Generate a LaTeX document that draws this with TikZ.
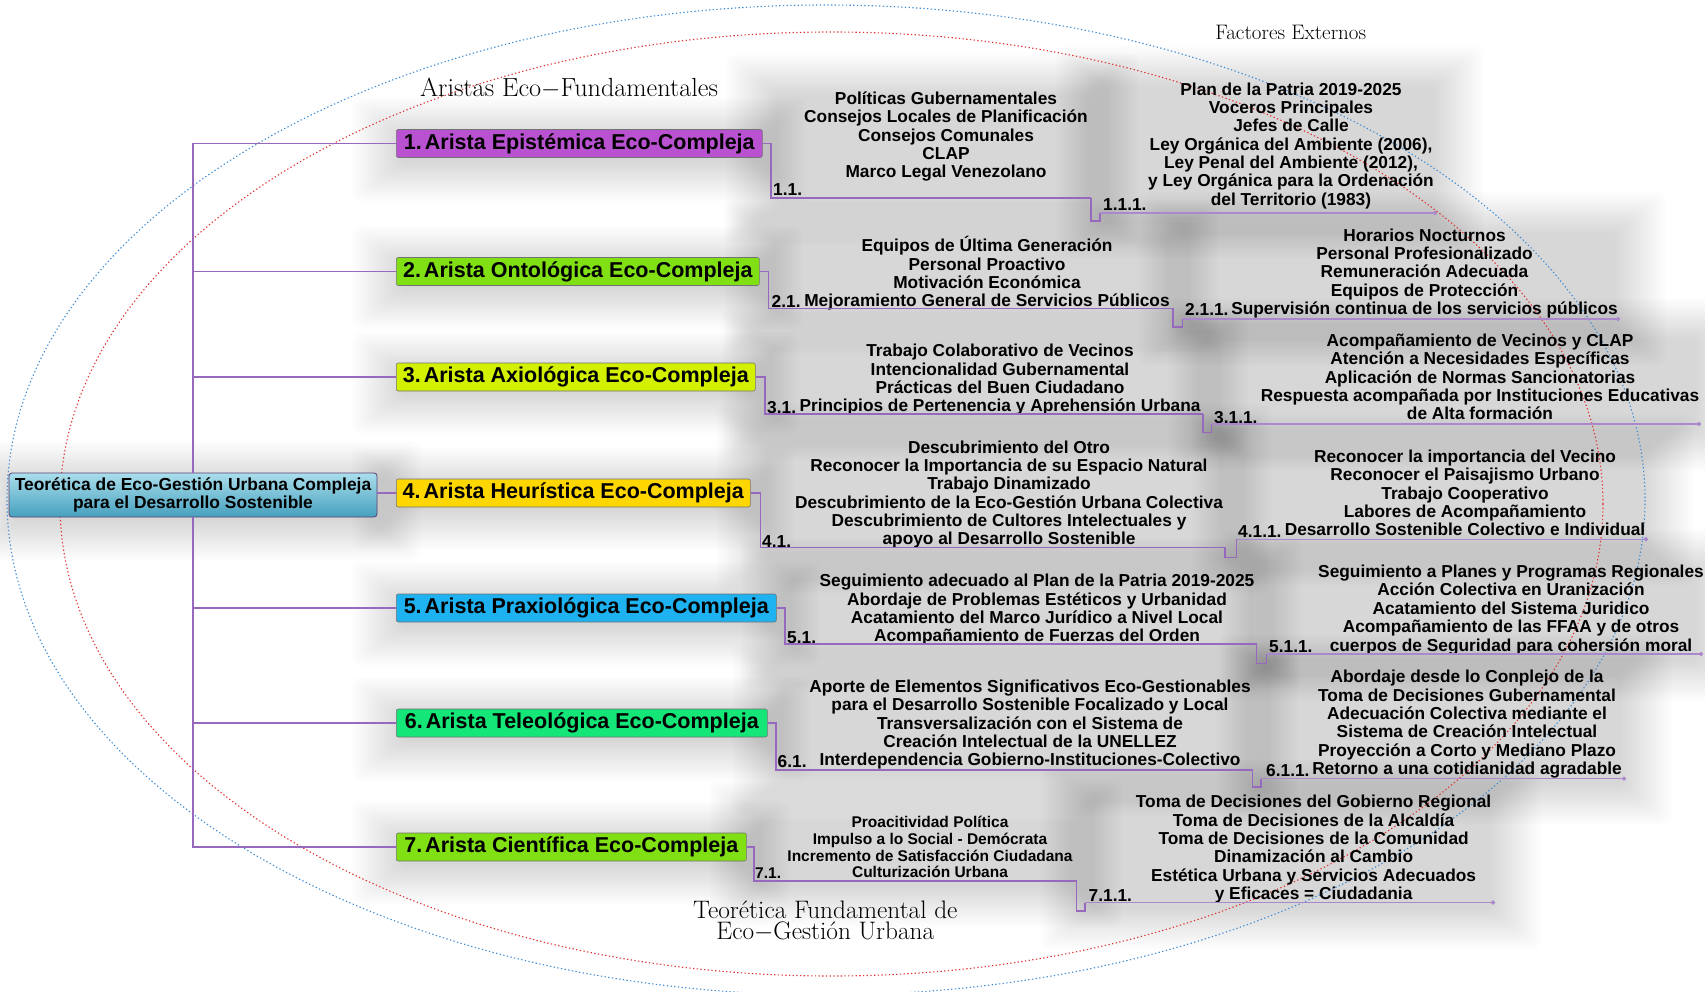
\documentclass[tikz,border=0pt]{standalone}
\usepackage{fontspec}
\newfontfamily\arial{Liberation Sans}
\usetikzlibrary{arrows.meta}
\definecolor{lnc}{RGB}{150,105,190}
\definecolor{c1}{RGB}{185,82,208}
\definecolor{c2}{RGB}{128,224,20}
\definecolor{c3}{RGB}{210,240,0}
\definecolor{c4}{RGB}{255,215,0}
\definecolor{c5}{RGB}{30,178,240}
\definecolor{c6}{RGB}{20,230,120}
\definecolor{c7}{RGB}{128,224,20}
\definecolor{ebl}{RGB}{60,140,215}
\definecolor{ere}{RGB}{225,50,50}
\definecolor{mtop}{RGB}{170,222,236}
\definecolor{mbot}{RGB}{70,160,190}
\newcommand{\sfsh}[4]{\foreach \k in {1,...,20}{\fill[black,opacity=0.0085,rounded corners=8pt] ({#1-\k*2.6+8},{#2-\k*2.1+10}) rectangle ({#3+\k*2.6-8},{#4+\k*2.1+2});}}
\tikzset{
 arista/.style={draw=black!55, line width=0.6pt, rounded corners=2pt, minimum height=28pt, inner sep=3pt, anchor=west, font=\arial\bfseries\fontsize{21.5}{24}\selectfont, text=black},
 conn/.style={draw=lnc, line width=1.1pt},
 uline/.style={draw=lnc!80!white, line width=1.6pt},
 blk/.style={align=center, inner sep=0pt, font=\arial\bfseries\fontsize{17.3}{18.35}\selectfont, execute at begin node=\strut, execute at end node=\strut},
 blks/.style={align=center, inner sep=0pt, font=\arial\bfseries\fontsize{15.5}{16.6}\selectfont, execute at begin node=\strut, execute at end node=\strut},
 lbl/.style={anchor=west, inner sep=0pt, font=\arial\bfseries\fontsize{17.3}{18.35}\selectfont},
 lbls/.style={anchor=west, inner sep=0pt, font=\arial\bfseries\fontsize{15.5}{16.6}\selectfont},
 ttl/.style={inner sep=0pt, align=center},
 endc/.style={-{Circle[open,length=4pt,width=4pt]}},
 dotl/.style={line width=1.1pt, dash pattern=on 1.3pt off 2.4pt},
}
\begin{document}
\begin{tikzpicture}[x=1pt,y=-1pt]
\fill[white] (0,0) rectangle (1705,992);
\useasboundingbox (0,0) rectangle (1705,992);
% soft shadows
\sfsh{9}{473}{377}{517}
\sfsh{396}{129}{762}{158}
\sfsh{770}{86}{1095}{200}
\sfsh{1100}{78}{1440}{215}
\sfsh{396}{258}{759}{285}
\sfsh{768}{232}{1175}{310}
\sfsh{1182}{224}{1622}{322}
\sfsh{396}{364}{755}{390}
\sfsh{765}{340}{1205}{416}
\sfsh{1212}{330}{1703}{427}
\sfsh{396}{479}{750}{506}
\sfsh{760}{436}{1227}{550}
\sfsh{1236}{446}{1650}{542}
\sfsh{396}{594}{776}{622}
\sfsh{785}{570}{1258}{646}
\sfsh{1266}{561}{1703}{657}
\sfsh{396}{709}{767}{737}
\sfsh{776}{675}{1254}{772}
\sfsh{1261}{666}{1628}{781}
\sfsh{396}{833}{746}{861}
\sfsh{753}{812}{1078}{883}
\sfsh{1085}{791}{1497}{905}
% ellipses
\draw[ebl, dotl] (826,500) ellipse [x radius=819, y radius=495];
\draw[ere, dotl] (831.5,504) ellipse [x radius=771.5, y radius=472];
% titles
\node[ttl, font=\fontsize{21}{24}\selectfont] (fe) at (1290.7,32.6) {Factores Externos};
\node[ttl, font=\fontsize{26.2}{28}\selectfont] (ae) at (569,88) {Aristas Eco$-$Fundamentales};
\node[ttl, font=\fontsize{25.3}{27}\selectfont] (tf1) at (825.3,910) {Teorética Fundamental de};
\node[ttl, font=\fontsize{25.3}{27}\selectfont] (tf2) at (825.3,932) {Eco$-$Gestión Urbana};
% main node
\node[draw=lnc!60!black, line width=0.8pt, rounded corners=3pt, top color=mtop, bottom color=mbot, minimum width=368pt, minimum height=44pt, align=center, inner sep=2pt, font=\arial\bfseries\fontsize{17.4}{17.6}\selectfont] (main) at (193,495) {Teorética de Eco-Gestión Urbana Compleja\\para el Desarrollo Sostenible};
% arista boxes
\node[arista, fill=c1, minimum width=366pt] (a1) at (396,143.5) {1.\kern3pt Arista Epistémica Eco-Compleja};
\node[arista, fill=c2, minimum width=363pt] (a2) at (396,271.5) {2.\kern3pt Arista Ontológica Eco-Compleja};
\node[arista, fill=c3, minimum width=359pt] (a3) at (396,377) {3.\kern3pt Arista Axiológica Eco-Compleja};
\node[arista, fill=c4, minimum width=354pt] (a4) at (396,493) {4.\kern3pt Arista Heurística Eco-Compleja};
\node[arista, fill=c5, minimum width=380pt] (a5) at (396,608) {5.\kern3pt Arista Praxiológica Eco-Compleja};
\node[arista, fill=c6, minimum width=371pt] (a6) at (396,723) {6.\kern3pt Arista Teleológica Eco-Compleja};
\node[arista, fill=c7, minimum width=350pt] (a7) at (396,847) {7.\kern3pt Arista Científica Eco-Compleja};
% trunk
\draw[conn] (main) |- (a1.west);
\draw[conn] (main) |- (a2.west);
\draw[conn] (main) |- (a3.west);
\draw[conn] (main.east |- a4.west) -- (a4.west);
\draw[conn] (main) |- (a5.west);
\draw[conn] (main) |- (a6.west);
\draw[conn] (main) |- (a7.west);
% ---------- Row 1
\node[blk] (t11) at (946,137.5) {Políticas Gubernamentales\\Consejos Locales de Planificación\\Consejos Comunales\\CLAP\\Marco Legal Venezolano};
\node[lbl] (l11) at (773,190) {1.1.};
\coordinate (u11s) at (771,198); \coordinate (u11e) at (1091,198);
\draw[conn] (a1.east) -| (u11s) -- (u11e);
\node[blk] (t111) at (1291,146.7) {Plan de la Patria 2019-2025\\Voceros Principales\\Jefes de Calle\\Ley Orgánica del Ambiente (2006),\\Ley Penal del Ambiente (2012),\\y Ley Orgánica para la Ordenación\\del Territorio (1983)};
\node[lbl] (l111) at (1103,205) {1.1.1.};
\coordinate (u111s) at (1100,213); \coordinate (u111e) at (1437,213);
\draw[conn] (u11e) -- (1091,221) -- (1100,221) -- (u111s);
\draw[uline, endc] (u111s) -- (u111e);
% ---------- Row 2
\node[blk] (t21) at (987,274.5) {Equipos de Última Generación\\Personal Proactivo\\Motivación Económica\\Mejoramiento General de Servicios Públicos};
\node[lbl] (l21) at (771.5,301.5) {2.1.};
\coordinate (u21s) at (768.5,308.3); \coordinate (u21e) at (1173,308.3);
\draw[conn] (a2.east) -| (u21s) -- (u21e);
\node[blk] (t211) at (1424.5,274.2) {Horarios Nocturnos\\Personal Profesionalizado\\Remuneración Adecuada\\Equipos de Protección\\Supervisión continua de los servicios públicos};
\node[lbl] (l211) at (1185,309.8) {2.1.1.};
\coordinate (u211s) at (1182.7,319); \coordinate (u211e) at (1620,319);
\draw[conn] (u21e) -- (1173,327) -- (1182.7,327) -- (u211s);
\draw[uline, endc] (u211s) -- (u211e);
% ---------- Row 3
\node[blk] (t31) at (1000,380.8) {Trabajo Colaborativo de Vecinos\\Intencionalidad Gubernamental\\Prácticas del Buen Ciudadano\\Principios de Pertenencia y Aprehensión Urbana};
\node[lbl] (l31) at (767,407.5) {3.1.};
\coordinate (u31s) at (765,414); \coordinate (u31e) at (1203,414);
\draw[conn] (a3.east) -| (u31s) -- (u31e);
\node[blk] (t311) at (1480,379.7) {Acompañamiento de Vecinos y CLAP\\Atención a Necesidades Específicas\\Aplicación de Normas Sancionatorias\\Respuesta acompañada por Instituciones Educativas\\de Alta formación};
\node[lbl] (l311) at (1214,417.5) {3.1.1.};
\coordinate (u311s) at (1211.7,424); \coordinate (u311e) at (1701,424);
\draw[conn] (u31e) -- (1203,432.7) -- (1211.7,432.7) -- (u311s);
\draw[uline, endc] (u311s) -- (u311e);
% ---------- Row 4
\node[blk] (t41) at (1009,495.5) {Descubrimiento del Otro\\Reconocer la Importancia de su Espacio Natural\\Trabajo Dinamizado\\Descubrimiento de la Eco-Gestión Urbana Colectiva\\Descubrimiento de Cultores Intelectuales y\\apoyo al Desarrollo Sostenible};
\node[lbl] (l41) at (762,541.5) {4.1.};
\coordinate (u41s) at (760.7,547.3); \coordinate (u41e) at (1225,547.3);
\draw[conn] (a4.east) -| (u41s) -- (u41e);
\node[blk] (t411) at (1465,495.5) {Reconocer la importancia del Vecino\\Reconocer el Paisajismo Urbano\\Trabajo Cooperativo\\Labores de Acompañamiento\\Desarrollo Sostenible Colectivo e Individual};
\node[lbl] (l411) at (1238,531.3) {4.1.1.};
\coordinate (u411s) at (1236.5,539.3); \coordinate (u411e) at (1648,539.3);
\draw[conn] (u41e) -- (1225,557.3) -- (1236.5,557.3) -- (u411s);
\draw[uline, endc] (u411s) -- (u411e);
% ---------- Row 5
\node[blk] (t51) at (1037,610.8) {Seguimiento adecuado al Plan de la Patria 2019-2025\\Abordaje de Problemas Estéticos y Urbanidad\\Acatamiento del Marco Jurídico a Nivel Local\\Acompañamiento de Fuerzas del Orden};
\node[lbl] (l51) at (787,637.5) {5.1.};
\coordinate (u51s) at (785,644); \coordinate (u51e) at (1256.7,644);
\draw[conn] (a5.east) -| (u51s) -- (u51e);
\node[blk] (t511) at (1511,610.8) {Seguimiento a Planes y Programas Regionales\\Acción Colectiva en Uranización\\Acatamiento del Sistema Juridico\\Acompañamiento de las FFAA y de otros\\cuerpos de Seguridad para cohersión moral};
\node[lbl] (l511) at (1269,646.5) {5.1.1.};
\coordinate (u511s) at (1266.7,654); \coordinate (u511e) at (1703,654);
\draw[conn] (u51e) -- (1256.7,663.3) -- (1266.7,663.3) -- (u511s);
\draw[uline, endc] (u511s) -- (u511e);
% ---------- Row 6
\node[blk] (t61) at (1030,725.5) {Aporte de Elementos Significativos Eco-Gestionables\\para el Desarrollo Sostenible Focalizado y Local\\Transversalización con el Sistema de\\Creación Intelectual de la UNELLEZ\\Interdependencia Gobierno-Instituciones-Colectivo};
\node[lbl] (l61) at (777.5,761.5) {6.1.};
\coordinate (u61s) at (776,770); \coordinate (u61e) at (1252.7,770);
\draw[conn] (a6.east) -| (u61s) -- (u61e);
\node[blk] (t611) at (1467,725.1) {Abordaje desde lo Conplejo de la\\Toma de Decisiones Gubernamental\\Adecuación Colectiva mediante el\\Sistema de Creación Intelectual\\Proyección a Corto y Mediano Plazo\\Retorno a una cotidianidad agradable};
\node[lbl] (l611) at (1266,770.3) {6.1.1.};
\coordinate (u611s) at (1261,778.6); \coordinate (u611e) at (1626,778.6);
\draw[conn] (u61e) -- (1252.7,787) -- (1261,787) -- (u611s);
\draw[uline, endc] (u611s) -- (u611e);
% ---------- Row 7
\node[blks] (t71) at (930,849.5) {Proacitividad Política\\Impulso a lo Social - Demócrata\\Incremento de Satisfacción Ciudadana\\Culturización Urbana};
\node[lbls] (l71) at (755,873.5) {7.1.};
\coordinate (u71s) at (754,881); \coordinate (u71e) at (1076.5,881);
\draw[conn] (a7.east) -| (u71s) -- (u71e);
\node[blk] (t711) at (1313.6,850.1) {Toma de Decisiones del Gobierno Regional\\Toma de Decisiones de la Alcaldía\\Toma de Decisiones de la Comunidad\\Dinamización al Cambio\\Estética Urbana y Servicios Adecuados\\y Eficaces = Ciudadania};
\node[lbl] (l711) at (1088.5,895.3) {7.1.1.};
\coordinate (u711s) at (1085,902.5); \coordinate (u711e) at (1495,902.5);
\draw[conn] (u71e) -- (1076.5,911) -- (1085,911) -- (u711s);
\draw[uline, endc] (u711s) -- (u711e);
\end{tikzpicture}
\end{document}
